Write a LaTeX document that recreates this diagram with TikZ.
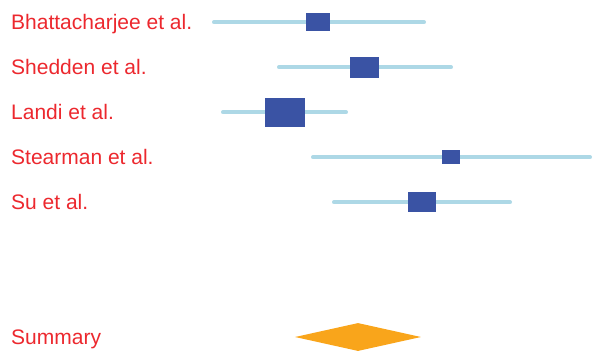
\documentclass[tikz,border=0pt]{standalone}
\usepackage{fontspec}
\setmainfont{Liberation Sans}
\usepackage{xcolor}
\usetikzlibrary{shapes.geometric}
\definecolor{studyred}{RGB}{236,40,46}
\definecolor{boxblue}{RGB}{58,83,164}
\definecolor{cilight}{RGB}{173,216,230}
\definecolor{sumorange}{RGB}{249,165,27}

\begin{document}
\begin{tikzpicture}[x=1pt, y=-1pt,
    label/.style={anchor=base west, inner sep=0pt, text=studyred, font=\fontsize{21}{25}\selectfont},
    ci/.style={draw=cilight, line width=4pt, line cap=round},
    weight/.style={fill=boxblue, draw=none, inner sep=0pt}]
    \useasboundingbox (0,0) rectangle (610,351);

    \node[label] (bhatname) at (11,29.5) {Bhattacharjee et al.};
    \node[label] (sheddenname) at (11,74.5) {Shedden et al.};
    \node[label] (landiname) at (11,119.5) {Landi et al.};
    \node[label] (stearmanname) at (11,164.5) {Stearman et al.};
    \node[label] (suname) at (11,209.5) {Su et al.};
    \node[label] (summaryname) at (11,344.5) {Summary};

    \coordinate (bhatlo) at (214,22.3);
    \coordinate (bhathi) at (424,22.3);
    \coordinate (sheddenlo) at (279,67.2);
    \coordinate (sheddenhi) at (451,67.2);
    \coordinate (landilo) at (223,112.3);
    \coordinate (landihi) at (346,112.3);
    \coordinate (stearmanlo) at (313,157.3);
    \coordinate (stearmanhi) at (590,157.3);
    \coordinate (sulo) at (334,202.3);
    \coordinate (suhi) at (510,202.3);

    \draw[ci] (bhatlo) -- (bhathi);
    \draw[ci] (sheddenlo) -- (sheddenhi);
    \draw[ci] (landilo) -- (landihi);
    \draw[ci] (stearmanlo) -- (stearmanhi);
    \draw[ci] (sulo) -- (suhi);

    \node[weight, minimum width=24pt, minimum height=18pt] (bhat) at (318,22.2) {};
    \node[weight, minimum width=29pt, minimum height=21pt] (shedden) at (364.2,67.2) {};
    \node[weight, minimum width=39.4pt, minimum height=29pt] (landi) at (285,112.2) {};
    \node[weight, minimum width=18.3pt, minimum height=14pt] (stearman) at (451.2,157.3) {};
    \node[weight, minimum width=28.3pt, minimum height=20pt] (su) at (421.8,202.3) {};

    \node[diamond, fill=sumorange, draw=none, inner sep=0pt, minimum width=126pt, minimum height=28pt] (summary) at (358,337) {};
\end{tikzpicture}
\end{document}
